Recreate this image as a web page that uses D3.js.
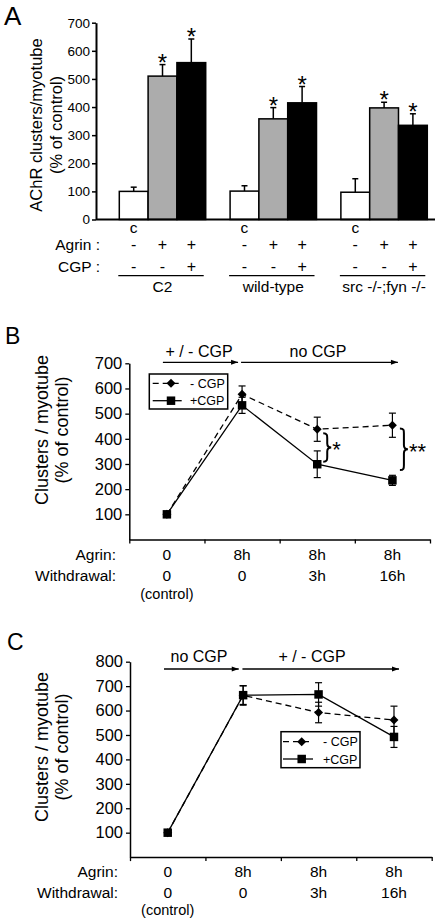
<!DOCTYPE html>
<html><head><meta charset="utf-8">
<script src="https://cdn.jsdelivr.net/npm/d3@7"></script>
<style>
body{margin:0;background:#fff}
svg{display:block}
text{font-family:"Liberation Sans",Arial,Helvetica,sans-serif;fill:#000}
</style>
</head><body>
<svg id="chart" width="444" height="922"></svg>
<script>
// ---------- Panel A data ----------
const groupsA = ["C2", "wild-type", "src -/-;fyn -/-"];
const conditionsA = ["control", "agrin", "agrinCGP"];
const agrinSigns = ["-", "+", "+"];
const cgpSigns = ["-", "-", "+"];
const c2Values = [100, 510, 558];
const c2Errors = [15, 41, 84];
const wildTypeValues = [101, 358, 415];
const wildTypeErrors = [19, 40, 58];
const srcFynValues = [97, 397, 335];
const srcFynErrors = [48, 20, 41];
const starredA = [false, true, true];
const ticksA = [0, 100, 200, 300, 400, 500, 600, 700];

// ---------- Panels B / C shared x labels ----------
const agrinTimes = ["0", "8h", "8h", "8h"];
const withdrawalTimes = ["0", "0", "3h", "16h"];

// ---------- Panel B data ----------
const bMinusCGP = [100, 577, 438, 454];
const bMinusCGPErr = [8, 33, 48, 48];
const bPlusCGP = [100, 533, 299, 235];
const bPlusCGPErr = [10, 32, 53, 20];
const ticksB = [100, 200, 300, 400, 500, 600, 700];

// ---------- Panel C data ----------
const cMinusCGP = [100, 662, 592, 561];
const cMinusCGPErr = [10, 40, 42, 57];
const cPlusCGP = [100, 663, 666, 492];
const cPlusCGPErr = [12, 38, 48, 43];
const ticksC = [100, 200, 300, 400, 500, 600, 700, 800];

const svg = d3.select("#chart");
const FONT = '"Liberation Sans",Arial,Helvetica,sans-serif';

svg.append("defs").append("marker")
  .attr("id", "arrow").attr("viewBox", "0 0 10 10")
  .attr("refX", 10).attr("refY", 5)
  .attr("markerWidth", 9).attr("markerHeight", 7)
  .attr("markerUnits", "userSpaceOnUse")
  .attr("orient", "auto")
  .append("path").attr("d", "M0,1.5 L10,5 L0,8.5 Z").attr("fill", "#000");

function label(g, x, y, txt, size, anchor) {
  return g.append("text").attr("x", x).attr("y", y).text(txt)
    .attr("font-size", size).attr("text-anchor", anchor || "middle");
}

// =================== PANEL A ===================
(function () {
  const g = svg.append("g");
  const yA = d3.scaleLinear([0, 700], [219.5, 22.7]);
  const x0 = d3.scaleBand(groupsA, [119.3, 427.3]).paddingInner(0.22).paddingOuter(0);
  const x1 = d3.scaleBand(conditionsA, [0, x0.bandwidth()]);
  const fills = ["#ffffff", "#acacac", "#000000"];
  const series = [
    [c2Values, c2Errors],
    [wildTypeValues, wildTypeErrors],
    [srcFynValues, srcFynErrors]
  ];

  label(g, 4, 25, "A", 26, "start");

  // axes
  const ax = g.append("g").attr("transform", "translate(96,0)")
    .call(d3.axisLeft(yA).tickValues(ticksA).tickSize(4).tickSizeOuter(0).tickPadding(2));
  ax.select(".domain").attr("stroke-width", 2);
  ax.selectAll(".tick line").attr("stroke-width", 1.5);
  ax.selectAll("text").attr("font-size", 13.5).attr("font-family", FONT);

  groupsA.forEach((grp, gi) => {
    const [vals, errs] = series[gi];
    conditionsA.forEach((c, ci) => {
      const x = x0(grp) + x1(c);
      const w = x1.bandwidth();
      const cx = x + w / 2;
      // error bar (upward)
      g.append("line").attr("x1", cx).attr("x2", cx)
        .attr("y1", yA(vals[ci])).attr("y2", yA(vals[ci] + errs[ci]))
        .attr("stroke", "#000").attr("stroke-width", 1.5);
      g.append("line").attr("x1", cx - 3).attr("x2", cx + 3)
        .attr("y1", yA(vals[ci] + errs[ci])).attr("y2", yA(vals[ci] + errs[ci]))
        .attr("stroke", "#000").attr("stroke-width", 1.5);
      g.append("rect").attr("x", x).attr("y", yA(vals[ci]))
        .attr("width", w).attr("height", yA(0) - yA(vals[ci]))
        .attr("fill", fills[ci]).attr("stroke", "#000").attr("stroke-width", 1.5);
      if (starredA[ci]) label(g, cx, yA(vals[ci] + errs[ci]) + 6, "*", 24);
      // rows below
      if (ci === 0) label(g, cx, 233, "c", 15.5);
      label(g, cx, 250, agrinSigns[ci], 16);
      label(g, cx, 271.7, cgpSigns[ci], 16);
    });
    const gx = x0(grp);
    g.append("line").attr("x1", gx - 1).attr("x2", gx + x0.bandwidth() - 2)
      .attr("y1", 275.7).attr("y2", 275.7).attr("stroke", "#000").attr("stroke-width", 1.3);
    label(g, gx + x0.bandwidth() / 2, 291.7, grp, 15.5);
  });

  // baseline
  g.append("line").attr("x1", 96).attr("x2", 435).attr("y1", yA(0)).attr("y2", yA(0))
    .attr("stroke", "#000").attr("stroke-width", 2);

  label(g, 100, 250, "Agrin :", 15.5, "end");
  label(g, 100, 271.7, "CGP :", 15.5, "end");

  g.append("text").attr("transform", "translate(36.7,125) rotate(-90)")
    .attr("text-anchor", "middle").attr("dy", "0.35em").attr("font-size", 16.5)
    .text("AChR clusters/myotube");
  g.append("text").attr("transform", "translate(56.7,125) rotate(-90)")
    .attr("text-anchor", "middle").attr("dy", "0.35em").attr("font-size", 16.5)
    .text("(% of control)");
})();

// =================== PANELS B and C ===================
function linePanel(cfg) {
  const g = svg.append("g");
  const y = d3.scaleLinear([0, cfg.yMax], [cfg.y0, cfg.yTop]);
  const x = d3.scaleLinear([0, 4], [cfg.xLeft, cfg.xRight]);
  const px = i => x(i + 0.5);

  label(g, cfg.letterX, cfg.letterY, cfg.letter, 23, "start");

  const ay = g.append("g").attr("transform", `translate(${cfg.xLeft},0)`)
    .call(d3.axisLeft(y).tickValues(cfg.ticks).tickSize(4).tickSizeOuter(0).tickPadding(3));
  ay.select(".domain").attr("stroke-width", 1.5);
  ay.selectAll(".tick line").attr("stroke-width", 1.3);
  ay.selectAll("text").attr("font-size", 16.5).attr("font-family", FONT);

  const axx = g.append("g").attr("transform", `translate(0,${cfg.y0})`)
    .call(d3.axisBottom(x).tickValues([0, 1, 2, 3, 4]).tickFormat("").tickSize(4).tickSizeOuter(0));
  axx.select(".domain").attr("stroke-width", 1.5);
  axx.selectAll(".tick line").attr("stroke-width", 1.3);

  // x labels
  label(g, cfg.rowLabelX, cfg.rowY1, "Agrin:", 15.5, "end");
  label(g, cfg.rowLabelX, cfg.rowY2, "Withdrawal:", 15.5, "end");
  agrinTimes.forEach((t, i) => label(g, px(i), cfg.rowY1, t, 15.5));
  withdrawalTimes.forEach((t, i) => label(g, px(i), cfg.rowY2, t, 15.5));
  label(g, px(0), cfg.rowY3, "(control)", 14.5);

  // y title
  g.append("text").attr("transform", `translate(41.7,${cfg.titleY}) rotate(-90)`)
    .attr("text-anchor", "middle").attr("dy", "0.35em").attr("font-size", 18)
    .text("Clusters / myotube");
  g.append("text").attr("transform", `translate(62,${cfg.titleY}) rotate(-90)`)
    .attr("text-anchor", "middle").attr("dy", "0.35em").attr("font-size", 18)
    .text("(% of control)");

  // arrows
  cfg.arrows.forEach(a => {
    g.append("line").attr("x1", px(a.from) + a.dx1).attr("x2", px(a.to) + a.dx2)
      .attr("y1", cfg.arrowY).attr("y2", cfg.arrowY)
      .attr("stroke", "#000").attr("stroke-width", 1.3).attr("marker-end", "url(#arrow)");
    label(g, a.labelX, cfg.arrowLabelY, a.text, 16);
  });

  const lineGen = d3.line().x((d, i) => px(i)).y(d => y(d));
  const diamond = d3.symbol(d3.symbolSquare, 40);
  const square = d3.symbol(d3.symbolSquare, 72);

  function series(vals, errs, dashed, isDiamond) {
    g.append("path").datum(vals).attr("d", lineGen).attr("fill", "none")
      .attr("stroke", "#000").attr("stroke-width", 1.3)
      .attr("stroke-dasharray", dashed ? "6,4" : null);
    vals.forEach((v, i) => {
      const cx = px(i);
      const yt = y(v + errs[i]), yb = y(v - errs[i]);
      g.append("line").attr("x1", cx).attr("x2", cx).attr("y1", yt).attr("y2", yb)
        .attr("stroke", "#000").attr("stroke-width", 1.2);
      [yt, yb].forEach(yy => g.append("line").attr("x1", cx - 3.5).attr("x2", cx + 3.5)
        .attr("y1", yy).attr("y2", yy).attr("stroke", "#000").attr("stroke-width", 1.2));
      g.append("path").attr("d", isDiamond ? diamond() : square())
        .attr("transform", `translate(${cx},${y(v)})` + (isDiamond ? " rotate(45)" : ""))
        .attr("fill", "#000");
    });
  }
  series(cfg.minus, cfg.minusErr, true, true);
  series(cfg.plus, cfg.plusErr, false, false);

  // legend
  const L = cfg.legend;
  g.append("rect").attr("x", L.x).attr("y", L.y).attr("width", L.w).attr("height", L.h)
    .attr("fill", "#fff").attr("stroke", "#000").attr("stroke-width", 1.5);
  [[L.r1, true, "- CGP"], [L.r2, false, "+CGP"]].forEach(([ry, isDash, txt]) => {
    g.append("line").attr("x1", L.lx1).attr("x2", L.lx2).attr("y1", ry).attr("y2", ry)
      .attr("stroke", "#000").attr("stroke-width", 1.3)
      .attr("stroke-dasharray", isDash ? "6,4" : null);
    g.append("path").attr("d", isDash ? diamond() : square())
      .attr("transform", `translate(${L.mx},${ry})` + (isDash ? " rotate(45)" : ""))
      .attr("fill", "#000");
    label(g, L.tx, ry + 4.5, txt, 12.5, "start");
  });

  if (cfg.braces) {
    cfg.braces.forEach(b => {
      const bx = px(b.at) + b.dx, ya = y(b.top), yb = y(b.bottom), ym = (ya + yb) / 2, w = 8;
      const h = w / 2;
      const p = `M${bx},${ya} C${bx + h},${ya} ${bx + h},${ya + 2} ${bx + h},${ya + 5} L${bx + h},${ym - 4} C${bx + h},${ym - 1} ${bx + w - 2},${ym} ${bx + w},${ym} C${bx + w - 2},${ym} ${bx + h},${ym + 1} ${bx + h},${ym + 4} L${bx + h},${yb - 5} C${bx + h},${yb - 2} ${bx + h},${yb} ${bx},${yb}`;
      g.append("path").attr("d", p).attr("fill", "none").attr("stroke", "#000").attr("stroke-width", 2);
      label(g, bx + w + 1, ym + 10, b.mark, 22, "start");
    });
  }
}

linePanel({
  letter: "B", letterX: 5, letterY: 343.5,
  yMax: 700, y0: 539.5, yTop: 363.3, xLeft: 129.3, xRight: 430, ticks: ticksB,
  rowLabelX: 116, rowY1: 560, rowY2: 581, rowY3: 598.5, titleY: 430,
  arrowY: 362.3, arrowLabelY: 356.7,
  arrows: [
    { from: 0, to: 1, dx1: -4, dx2: -4, text: "+ / - CGP", labelX: 199 },
    { from: 1, to: 3, dx1: -1, dx2: 5.5, text: "no CGP", labelX: 318 }
  ],
  minus: bMinusCGP, minusErr: bMinusCGPErr, plus: bPlusCGP, plusErr: bPlusCGPErr,
  legend: { x: 149.3, y: 374, w: 78.4, h: 35, r1: 383.3, r2: 400.7, lx1: 152.7, lx2: 181.7, mx: 171, tx: 190 },
  braces: [
    { at: 2, dx: 6, top: 422, bottom: 309, mark: "*" },
    { at: 3, dx: 7.5, top: 441, bottom: 276, mark: "**" }
  ]
});

linePanel({
  letter: "C", letterX: 7, letterY: 650,
  yMax: 800, y0: 857.1, yTop: 661.7, xLeft: 130, xRight: 431.7, ticks: ticksC,
  rowLabelX: 118, rowY1: 876.7, rowY2: 897.5, rowY3: 915, titleY: 747,
  arrowY: 669, arrowLabelY: 661.7,
  arrows: [
    { from: 0, to: 1, dx1: -3.7, dx2: -4.4, text: "no CGP", labelX: 199 },
    { from: 1, to: 3, dx1: -0.7, dx2: 5, text: "+ / - CGP", labelX: 312 }
  ],
  minus: cMinusCGP, minusErr: cMinusCGPErr, plus: cPlusCGP, plusErr: cPlusCGPErr,
  legend: { x: 281, y: 731.7, w: 79, h: 36, r1: 741.7, r2: 759, lx1: 283, lx2: 313, mx: 301.7, tx: 323 }
});
</script>
</body></html>
